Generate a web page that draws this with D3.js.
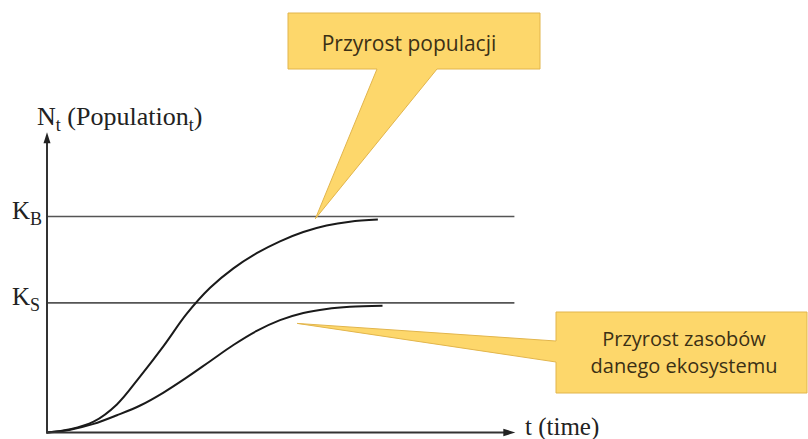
<!DOCTYPE html>
<html><head><meta charset="utf-8">
<script src="https://cdn.jsdelivr.net/npm/d3@7"></script>
<style>body{margin:0;background:#fff}svg{display:block}</style>
</head><body>
<svg id="c" width="808" height="439"></svg>
<script>
// ---- data ----
const time       = [0, 0.5, 1, 1.5, 2, 2.5, 3, 3.5, 4, 4.5, 5, 5.5, 6, 6.5, 7.1];
const population = [0, 1.5, 5, 13, 26, 40, 55, 67, 76, 83, 88.5, 92.8, 95.8, 97.6, 98.6];
const timeS      = [0, 0.5, 1, 1.5, 2, 2.5, 3, 3.5, 4, 4.5, 5, 5.5, 6, 6.5, 7.2];
const resources  = [0, 1.3, 4, 8, 12.5, 18.5, 25.5, 33, 40.5, 47, 52, 55.3, 57.2, 58.2, 58.7];
const capacityLevels = [100, 60];
const capacityLabels = [["K", "B"], ["K", "S"]];
const callout1Lines = ["Przyrost populacji"];
const callout2Lines = ["Przyrost zasobów", "danego ekosystemu"];
const callout1Tip = [5.76, 99];
const callout2Tip = [5.37, 50.5];
const yAxisLabel = ["N", "t", " (Population", "t", ")"];
const xAxisLabel = "t (time)";

// ---- scales ----
const x = d3.scaleLinear().domain([0, 10]).range([47, 513]);
const y = d3.scaleLinear().domain([0, 100]).range([432.5, 216.5]);
const svg = d3.select("#c");
const serif = "'Liberation Serif','DejaVu Serif',serif";
const sans = "'Open Sans','Noto Sans',sans-serif";

// capacity lines
svg.selectAll("line.k").data(capacityLevels).join("line")
  .attr("x1", x(0)).attr("x2", x(10.03))
  .attr("y1", d => y(d)).attr("y2", d => y(d))
  .attr("stroke", "#555").attr("stroke-width", 1.6);

// capacity labels
capacityLevels.forEach((lv, i) => {
  const t = svg.append("text").attr("x", 12).attr("y", y(lv) + 2.5)
    .attr("font-family", serif).attr("font-size", 25).attr("fill", "#222");
  t.append("tspan").text(capacityLabels[i][0]);
  t.append("tspan").attr("font-size", 18).attr("dy", 6).text(capacityLabels[i][1]);
});

// curves
const line = d3.line().curve(d3.curveCatmullRom.alpha(0.5)).x(d => x(d[0])).y(d => y(d[1]));
svg.append("path").datum(time.map((t, i) => [t, population[i]]))
  .attr("d", line).attr("fill", "none").attr("stroke", "#1a1a1a").attr("stroke-width", 2);
svg.append("path").datum(timeS.map((t, i) => [t, resources[i]]))
  .attr("d", line).attr("fill", "none").attr("stroke", "#1a1a1a").attr("stroke-width", 2);

// axes
const yTop = y(139);
svg.append("line").attr("x1", x(0)).attr("x2", x(0)).attr("y1", y(0) + 1).attr("y2", yTop + 8)
  .attr("stroke", "#333").attr("stroke-width", 2);
svg.append("path").attr("d", `M${x(0)},${yTop} L${x(0) - 3.5},${yTop + 11} L${x(0) + 3.5},${yTop + 11} Z`).attr("fill", "#222");
const xEnd = x(10.05);
svg.append("line").attr("x1", x(0) - 1).attr("x2", xEnd - 8).attr("y1", y(0)).attr("y2", y(0))
  .attr("stroke", "#333").attr("stroke-width", 2.2);
svg.append("path").attr("d", `M${xEnd},${y(0)} L${xEnd - 12},${y(0) - 3.8} L${xEnd - 12},${y(0) + 3.8} Z`).attr("fill", "#222");

// axis labels
const yl = svg.append("text").attr("x", 37).attr("y", 125)
  .attr("font-family", serif).attr("font-size", 26).attr("fill", "#222");
yl.append("tspan").text(yAxisLabel[0]);
yl.append("tspan").attr("font-size", 18).attr("dy", 6).text(yAxisLabel[1]);
yl.append("tspan").attr("dy", -6).text(yAxisLabel[2]);
yl.append("tspan").attr("font-size", 18).attr("dy", 6).text(yAxisLabel[3]);
yl.append("tspan").attr("dy", -6).text(yAxisLabel[4]);
svg.append("text").attr("x", 525).attr("y", 435)
  .attr("font-family", serif).attr("font-size", 25).attr("fill", "#222").text(xAxisLabel);

// callouts
const fill = "#FDD76B", stroke = "#E2B54C", txt = "#3b3015";
const [t1x, t1y] = [x(callout1Tip[0]), y(callout1Tip[1])];
svg.append("path")
  .attr("d", `M288,13 H540 V69 H437 L${t1x},${t1y} L377,69 H288 Z`)
  .attr("fill", fill).attr("stroke", stroke).attr("stroke-width", 1);
svg.selectAll("text.c1").data(callout1Lines).join("text")
  .attr("x", 409).attr("y", (d, i) => 51 + i * 24).attr("text-anchor", "middle")
  .attr("font-family", sans).attr("font-size", 21).attr("fill", txt).text(d => d);

const [t2x, t2y] = [x(callout2Tip[0]), y(callout2Tip[1])];
svg.append("path")
  .attr("d", `M556,312 H807 V393 H556 V362 L${t2x},${t2y} L556,341 Z`)
  .attr("fill", fill).attr("stroke", stroke).attr("stroke-width", 1);
svg.selectAll("text.c2").data(callout2Lines).join("text")
  .attr("x", 684).attr("y", (d, i) => 346 + i * 27).attr("text-anchor", "middle")
  .attr("font-family", sans).attr("font-size", 20).attr("fill", txt).text(d => d);
</script>
</body></html>
